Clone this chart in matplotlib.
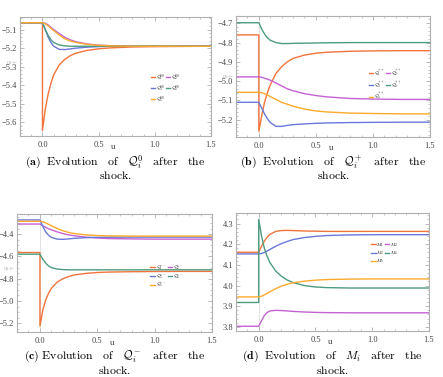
import matplotlib
matplotlib.use("Agg")
import matplotlib.pyplot as plt
from matplotlib.ticker import MultipleLocator

plt.rcParams['mathtext.fontset'] = 'cm'
plt.rcParams['font.family'] = ['Liberation Serif', 'DejaVu Serif']

# shared time grid (u); 0.0 appears twice to allow the jump at the shock
u = [-0.2, 0.0, 0.0, 0.025, 0.05, 0.075, 0.1, 0.15, 0.2, 0.25, 0.3, 0.4, 0.5, 0.6, 0.8, 1.0, 1.25, 1.5]

# ---- panel (a): Q^0 ----
a_orange = [-5.063, -5.063, -5.645, -5.53, -5.45, -5.39, -5.345, -5.29, -5.26, -5.24, -5.227, -5.212, -5.204, -5.199, -5.194, -5.192, -5.191, -5.19]
a_purple = [-5.063, -5.063, -5.063, -5.066, -5.075, -5.088, -5.1, -5.122, -5.142, -5.156, -5.166, -5.178, -5.184, -5.187, -5.19, -5.19, -5.19, -5.19]
a_blue = [-5.063, -5.063, -5.063, -5.1, -5.14, -5.17, -5.19, -5.207, -5.208, -5.204, -5.2, -5.195, -5.192, -5.19, -5.19, -5.19, -5.19, -5.19]
a_green = [-5.063, -5.063, -5.063, -5.1, -5.13, -5.155, -5.17, -5.183, -5.188, -5.19, -5.19, -5.19, -5.19, -5.19, -5.19, -5.19, -5.19, -5.19]
a_yellow = [-5.063, -5.063, -5.063, -5.068, -5.08, -5.093, -5.105, -5.13, -5.15, -5.162, -5.17, -5.18, -5.185, -5.188, -5.19, -5.19, -5.19, -5.19]

# ---- panel (b): Q^+ ----
b_orange = [-4.76, -4.76, -5.26, -5.18, -5.11, -5.06, -5.02, -4.96, -4.925, -4.9, -4.882, -4.865, -4.855, -4.85, -4.845, -4.843, -4.842, -4.842]
b_purple = [-4.978, -4.978, -4.978, -4.98, -4.985, -4.99, -4.995, -5.01, -5.025, -5.04, -5.05, -5.065, -5.075, -5.082, -5.09, -5.093, -5.095, -5.095]
b_blue = [-5.11, -5.11, -5.11, -5.14, -5.17, -5.195, -5.215, -5.235, -5.235, -5.23, -5.226, -5.222, -5.219, -5.217, -5.215, -5.214, -5.213, -5.213]
b_green = [-4.697, -4.697, -4.697, -4.73, -4.755, -4.775, -4.788, -4.8, -4.805, -4.805, -4.804, -4.803, -4.802, -4.801, -4.8, -4.8, -4.8, -4.8]
b_yellow = [-5.058, -5.058, -5.058, -5.06, -5.065, -5.072, -5.08, -5.095, -5.11, -5.12, -5.13, -5.145, -5.155, -5.16, -5.166, -5.168, -5.17, -5.17]

# ---- panel (c): Q^- ----
c_orange = [-4.565, -4.565, -5.224, -5.08, -4.99, -4.93, -4.885, -4.83, -4.8, -4.78, -4.766, -4.752, -4.744, -4.74, -4.737, -4.735, -4.734, -4.734]
c_purple = [-4.31, -4.31, -4.31, -4.325, -4.34, -4.352, -4.362, -4.38, -4.395, -4.407, -4.415, -4.427, -4.435, -4.44, -4.443, -4.445, -4.445, -4.445]
c_blue = [-4.273, -4.273, -4.273, -4.33, -4.38, -4.41, -4.43, -4.445, -4.447, -4.443, -4.438, -4.432, -4.429, -4.428, -4.427, -4.427, -4.427, -4.427]
c_green = [-4.58, -4.58, -4.58, -4.625, -4.66, -4.685, -4.7, -4.713, -4.718, -4.72, -4.72, -4.72, -4.72, -4.72, -4.72, -4.72, -4.72, -4.72]
c_yellow = [-4.285, -4.285, -4.285, -4.29, -4.3, -4.312, -4.325, -4.35, -4.37, -4.385, -4.395, -4.407, -4.413, -4.416, -4.418, -4.418, -4.418, -4.418]

# ---- panel (d): M ----
d_orange = [4.161, 4.161, 4.161, 4.19, 4.215, 4.235, 4.248, 4.262, 4.266, 4.267, 4.266, 4.264, 4.263, 4.262, 4.262, 4.262, 4.262, 4.262]
d_purple = [3.803, 3.803, 3.803, 3.83, 3.855, 3.87, 3.877, 3.88, 3.879, 3.877, 3.875, 3.872, 3.87, 3.869, 3.868, 3.868, 3.868, 3.868]
d_blue = [4.153, 4.153, 4.153, 4.155, 4.16, 4.167, 4.175, 4.19, 4.203, 4.213, 4.222, 4.232, 4.238, 4.242, 4.245, 4.246, 4.246, 4.246]
d_green = [3.918, 3.918, 4.32, 4.24, 4.18, 4.14, 4.11, 4.07, 4.045, 4.027, 4.015, 4.0, 3.993, 3.99, 3.988, 3.988, 3.988, 3.988]
d_yellow = [3.945, 3.945, 3.945, 3.948, 3.955, 3.962, 3.97, 3.985, 3.997, 4.006, 4.013, 4.021, 4.026, 4.029, 4.031, 4.032, 4.032, 4.032]

labels_a = [r'$\mathcal{Q}_1^{00}$', r'$\mathcal{Q}_2^{00}$', r'$\mathcal{Q}_3^{00}$', r'$\mathcal{Q}_4^{00}$', r'$\mathcal{Q}_5^{00}$']
labels_b = [r'$\mathcal{Q}_1^{++}$', r'$\mathcal{Q}_2^{++}$', r'$\mathcal{Q}_3^{++}$', r'$\mathcal{Q}_4^{++}$', r'$\mathcal{Q}_5^{++}$']
labels_c = [r'$\mathcal{Q}_1^{--}$', r'$\mathcal{Q}_2^{--}$', r'$\mathcal{Q}_3^{--}$', r'$\mathcal{Q}_4^{--}$', r'$\mathcal{Q}_5^{--}$']
labels_d = [r'$M_1$', r'$M_2$', r'$M_3$', r'$M_4$', r'$M_5$']

captions = [
    (r'$\mathbf{(a)}\ \ \mathrm{Evolution\ \ \ of}\ \ \ \mathcal{Q}_i^0\ \ \ \mathrm{after\ \ \ the}$', r'$\mathrm{shock.}$'),
    (r'$\mathbf{(b)}\ \ \mathrm{Evolution\ \ \ of}\ \ \ \mathcal{Q}_i^+\ \ \ \mathrm{after\ \ \ the}$', r'$\mathrm{shock.}$'),
    (r'$\mathbf{(c)}\ \mathrm{Evolution\ \ \ of}\ \ \ \mathcal{Q}_i^-\ \ \ \mathrm{after\ \ \ the}$', r'$\mathrm{shock.}$'),
    (r'$\mathbf{(d)}\ \ \mathrm{Evolution\ \ \ of}\ \ \ M_i\ \ \ \mathrm{after\ \ \ the}$', r'$\mathrm{shock.}$'),
]

colors = {'orange': '#F0743C', 'purple': '#C462D2', 'blue': '#6A78DA', 'green': '#4E9C80', 'yellow': '#FAAA2C'}

W, H = 443, 377
fig = plt.figure(figsize=(W / 100, H / 100), dpi=100)

def rect(l, t, r, b):
    return [l / W, 1 - b / H, (r - l) / W, (b - t) / H]

panels = [
    dict(rect=rect(20, 17, 211, 136), data=[a_orange, a_purple, a_blue, a_green, a_yellow], labels=labels_a,
         ylim=(-5.675, -5.032), major=0.1, minor=0.02, ylab=True, ylab_y=0.62, leg=(0.76, 0.40)),
    dict(rect=rect(236, 16, 430, 137), data=[b_orange, b_purple, b_blue, b_green, b_yellow], labels=labels_b,
         ylim=(-5.29, -4.662), major=0.1, minor=0.02, ylab=True, ylab_y=0.50, leg=(0.77, 0.43)),
    dict(rect=rect(17, 214, 212, 332), data=[c_orange, c_purple, c_blue, c_green, c_yellow], labels=labels_c,
         ylim=(-5.277, -4.22), major=0.2, minor=0.05, ylab=True, ylab_y=0.54, leg=(0.77, 0.47)),
    dict(rect=rect(236, 213, 429, 331), data=[d_orange, d_purple, d_blue, d_green, d_yellow], labels=labels_d,
         ylim=(3.78, 4.351), major=0.1, minor=0.02, ylab=False, ylab_y=0.5, leg=(0.77, 0.66)),
]

order = ['orange', 'purple', 'blue', 'green', 'yellow']
for i, p in enumerate(panels):
    ax = fig.add_axes(p['rect'])
    ax.axvline(0, color='#dddddd', lw=0.6, zorder=0)
    lines = {}
    for name, ys, lab in zip(order, p['data'], p['labels']):
        ln, = ax.plot(u, ys, color=colors[name], lw=1.0, label=lab)
        lines[name] = ln
    ax.set_xlim(-0.2, 1.5)
    ax.set_ylim(*p['ylim'])
    ax.xaxis.set_major_locator(MultipleLocator(0.5))
    ax.xaxis.set_minor_locator(MultipleLocator(0.1))
    ax.yaxis.set_major_locator(MultipleLocator(p['major']))
    ax.yaxis.set_minor_locator(MultipleLocator(p['minor']))
    ax.xaxis.set_major_formatter(plt.FuncFormatter(lambda v, pos: '{:.1f}'.format(v)))
    ax.yaxis.set_major_formatter(plt.FuncFormatter(lambda v, pos: '{:.1f}'.format(v).replace('-', '\u2212')))
    for s in ax.spines.values():
        s.set_color('#b0b0b0')
        s.set_linewidth(0.8)
    ax.tick_params(which='both', direction='in', top=True, right=True, color='#b0b0b0',
                   labelsize=6, labelcolor='#444444', pad=2)
    ax.tick_params(axis='x', which='both', pad=3.5)
    ax.tick_params(which='major', length=3, width=0.6)
    ax.tick_params(which='minor', length=1.5, width=0.5)
    ax.text(0.49, -0.095, 'u', transform=ax.transAxes, ha='center', va='center', fontsize=6.5, color='#444444')
    if p['ylab']:
        ax.text(-0.01, p['ylab_y'], 'Q(f\u00b7]=', transform=ax.transAxes, ha='right', va='center',
                fontsize=3, color='#999999')
    hs = [lines['orange'], lines['blue'], lines['yellow'], lines['purple'], lines['green']]
    ls = [h.get_label() for h in hs]
    ax.legend(hs, ls, ncol=2, loc='center', bbox_to_anchor=p['leg'], fontsize=3.2, frameon=False,
              handlelength=1.0, handletextpad=0.2, columnspacing=0.2, labelspacing=0.1, borderpad=0)
    # captions
    l, b, w, h = p['rect']
    cx = l + w / 2
    top_row = i < 2
    y1 = 1 - (162 if top_row else 356.5) / H
    y2 = 1 - (176 if top_row else 370.5) / H
    fig.text(cx, y1, captions[i][0], ha='center', va='center', fontsize=8.5)
    fig.text(cx, y2, captions[i][1], ha='center', va='center', fontsize=8.5)

fig.savefig('out.png', dpi=100)
